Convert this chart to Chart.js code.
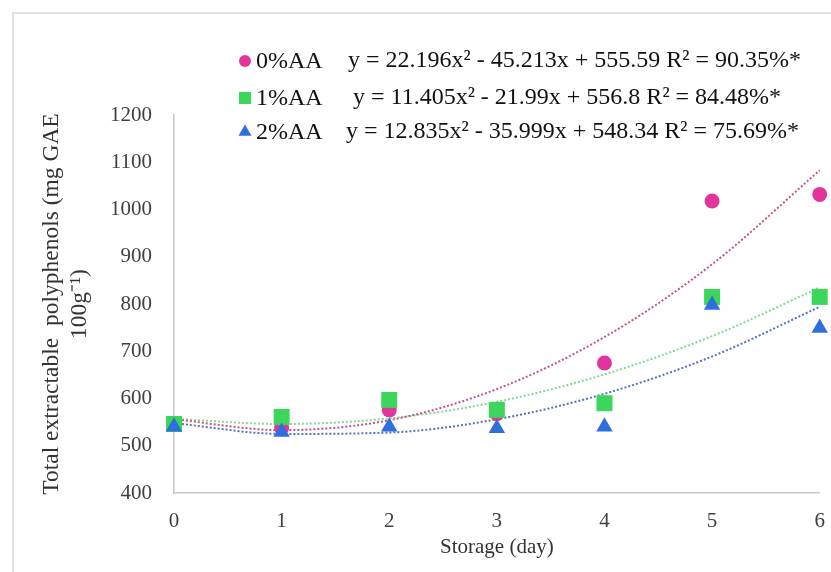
<!DOCTYPE html>
<html>
<head>
<meta charset="utf-8">
<script src="https://cdn.jsdelivr.net/npm/chart.js@4.4.1/dist/chart.umd.min.js"></script>
<style>
  body { margin: 0; background: #fff; }
  #wrap { position: relative; width: 831px; height: 572px; }
  #frame { position: absolute; left: 12px; top: 12px; right: 0; bottom: 0;
           border-left: 2px solid #e3e3e3; border-top: 2px solid #e3e3e3; }
  canvas { position: absolute; left: 0; top: 0; }
</style>
</head>
<body>
<div id="wrap">
  <div id="frame"></div>
  <canvas id="chart" width="831" height="572"></canvas>
</div>
<script>
// storage days
var days = [0, 1, 2, 3, 4, 5, 6];

// measured points (mg GAE 100g-1)
var aa0 = [545, 538, 576, 568, 675, 1018, 1032];
var aa1 = [546, 561, 597, 576, 590, 815, 815];
var aa2 = [540, 529, 540, 537, 540, 798, 749];

// polynomial trendlines at each day
var trend0 = [556, 533, 554, 620, 730, 884, 1083];
var trend1 = [557, 546, 558, 593, 651, 732, 835];
var trend2 = [548, 525, 528, 556, 610, 689, 794];

var seriesNames = ["0%AA", "1%AA", "2%AA"];
var equations = [
    "y = 22.196x\u00b2 - 45.213x + 555.59 R\u00b2 = 90.35%*",
    "y = 11.405x\u00b2 - 21.99x + 556.8 R\u00b2 = 84.48%*",
    "y = 12.835x\u00b2 - 35.999x + 548.34 R\u00b2 = 75.69%*"
];
var yTicks = [400, 500, 600, 700, 800, 900, 1000, 1100, 1200];

var pink = "#e1359b", green = "#3dd65c", blue = "#2f6fdd";
var serif = "'Liberation Serif', 'Times New Roman', serif";

function pts(vals) {
    return days.map(function (d, i) { return { x: d, y: vals[i] }; });
}

function markers(label, vals, color, style, r, order) {
    return {
        type: 'scatter', label: label, data: pts(vals), order: order, clip: false,
        pointStyle: style, pointRadius: r, pointHoverRadius: r,
        backgroundColor: color, borderColor: color, borderWidth: 0
    };
}

function trend(vals, color, order) {
    return {
        type: 'line', label: 'trend', data: pts(vals), order: order, clip: false,
        borderColor: color, borderWidth: 2, borderDash: [2, 2],
        pointRadius: 0, fill: false, cubicInterpolationMode: 'monotone'
    };
}

var legendMarks = [
    { style: 'circle', r: 6, color: pink },
    { style: 'rect', r: 8.5, color: green },
    { style: 'triangle', r: 7.5, color: blue }
];

var eqLegend = {
    id: 'eqLegend',
    afterDraw: function (chart) {
        var ctx = chart.ctx;
        var rows = [61, 98, 132];
        var eqX = [348, 353, 346];
        ctx.save();
        for (var i = 0; i < seriesNames.length; i++) {
            var m = legendMarks[i];
            ctx.fillStyle = m.color;
            ctx.strokeStyle = m.color;
            Chart.helpers.drawPoint(ctx, { pointStyle: m.style, radius: m.r, rotation: 0, borderWidth: 0 }, 245, rows[i]);
            ctx.fillStyle = "#111";
            ctx.font = "24px " + serif;
            ctx.textBaseline = "middle";
            ctx.textAlign = "left";
            ctx.fillText(seriesNames[i], 256, rows[i] + 1);
            ctx.fillText(equations[i], eqX[i], rows[i]);
        }
        ctx.restore();
    }
};

new Chart(document.getElementById('chart'), {
    data: {
        datasets: [
            markers(seriesNames[2], aa2, blue, 'triangle', 9.5, 0),
            markers(seriesNames[1], aa1, green, 'rect', 11.3, 1),
            markers(seriesNames[0], aa0, pink, 'circle', 7.5, 2),
            trend(trend0, "#c25591", 3),
            trend(trend1, "#86d890", 4),
            trend(trend2, "#5574b8", 5)
        ]
    },
    options: {
        responsive: false,
        animation: false,
        layout: { padding: { left: 0, top: 115, right: 11, bottom: 0 } },
        plugins: { legend: { display: false }, tooltip: { enabled: false } },
        scales: {
            x: {
                type: 'linear', min: 0, max: 6,
                afterFit: function (s) { s.height = 79; s.paddingLeft = 0; s.paddingRight = 0; },
                grid: { display: false, drawTicks: false },
                border: { color: "#c8c8c8", width: 1.5 },
                ticks: { stepSize: 1, padding: 16, color: "#404040", font: { family: serif, size: 21 } },
                title: { display: true, text: "Storage (day)", color: "#333", padding: { bottom: 12 },
                         font: { family: serif, size: 21 } }
            },
            y: {
                min: 400, max: 1200,
                afterFit: function (s) { s.width = 174; s.paddingTop = 0; s.paddingBottom = 0; },
                afterBuildTicks: function (s) { s.ticks = yTicks.map(function (v) { return { value: v }; }); },
                grid: { display: false, drawTicks: false },
                border: { color: "#c8c8c8", width: 1.5 },
                ticks: { padding: 22, color: "#404040", font: { family: serif, size: 21 },
                         callback: function (v) { return String(v); } },
                title: { display: true, text: ["Total extractable  polyphenols (mg GAE", "100g\u207b\u00b9)"],
                         color: "#333", padding: { top: 38 },
                         font: { family: serif, size: 23.5, lineHeight: 1.2 } }
            }
        }
    },
    plugins: [eqLegend]
});
</script>
</body>
</html>
